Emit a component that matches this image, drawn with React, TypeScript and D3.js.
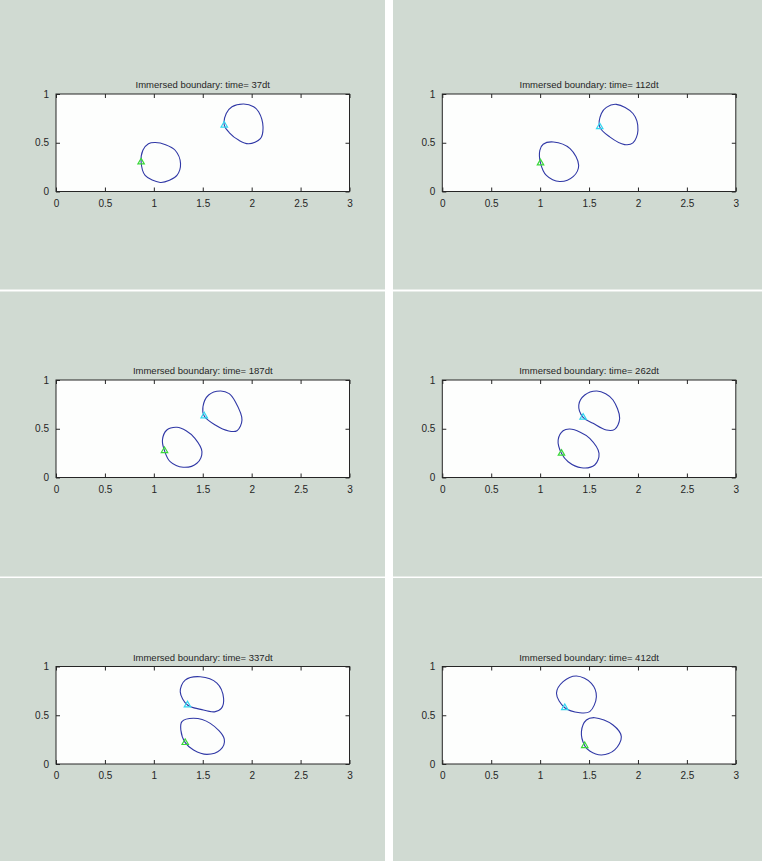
import * as React from 'react';
import * as d3 from 'd3';

type Pt = [number, number];

// frame times (in dt units)
const TIMES = [37, 112, 187, 262, 337, 412];

const X_TICKS = [0, 0.5, 1, 1.5, 2, 2.5, 3];
const Y_TICKS = [0, 0.5, 1];

// lower / left boundary of each frame, first point carries the green marker
const LOWER_CURVES: Pt[][] = [
    [[0.870, 0.302], [0.888, 0.423], [0.945, 0.490], [1.014, 0.502], [1.120, 0.480], [1.218, 0.423], [1.273, 0.286], [1.236, 0.165], [1.160, 0.115], [1.065, 0.093], [0.911, 0.165]],
    [[1.004, 0.292], [0.997, 0.423], [1.031, 0.485], [1.136, 0.508], [1.306, 0.440], [1.394, 0.268], [1.340, 0.155], [1.200, 0.103], [1.064, 0.165]],
    [[1.109, 0.275], [1.088, 0.385], [1.133, 0.487], [1.236, 0.515], [1.330, 0.480], [1.420, 0.402], [1.492, 0.265], [1.440, 0.146], [1.300, 0.105], [1.167, 0.162]],
    [[1.218, 0.248], [1.184, 0.385], [1.235, 0.480], [1.303, 0.497], [1.410, 0.465], [1.507, 0.402], [1.602, 0.248], [1.558, 0.128], [1.422, 0.100], [1.286, 0.162]],
    [[1.321, 0.219], [1.276, 0.349], [1.287, 0.434], [1.406, 0.469], [1.577, 0.417], [1.720, 0.256], [1.679, 0.144], [1.543, 0.099], [1.406, 0.144]],
    [[1.456, 0.188], [1.422, 0.331], [1.473, 0.451], [1.558, 0.475], [1.745, 0.400], [1.830, 0.280], [1.762, 0.144], [1.627, 0.092], [1.507, 0.133]],
];

// upper / right boundary of each frame, first point carries the cyan marker
const UPPER_CURVES: Pt[][] = [
    [[1.720, 0.680], [1.740, 0.800], [1.799, 0.869], [1.918, 0.897], [2.020, 0.870], [2.071, 0.818], [2.116, 0.663], [2.089, 0.543], [1.969, 0.490], [1.870, 0.525], [1.770, 0.605]],
    [[1.609, 0.663], [1.626, 0.800], [1.677, 0.863], [1.779, 0.894], [1.949, 0.800], [2.000, 0.629], [1.949, 0.498], [1.864, 0.481], [1.711, 0.560]],
    [[1.515, 0.631], [1.502, 0.726], [1.560, 0.846], [1.680, 0.887], [1.770, 0.860], [1.833, 0.777], [1.901, 0.590], [1.850, 0.480], [1.765, 0.477], [1.628, 0.538]],
    [[1.439, 0.617], [1.395, 0.744], [1.456, 0.846], [1.576, 0.887], [1.670, 0.860], [1.745, 0.795], [1.813, 0.607], [1.762, 0.494], [1.677, 0.487], [1.541, 0.556]],
    [[1.344, 0.605], [1.270, 0.740], [1.320, 0.860], [1.474, 0.895], [1.645, 0.830], [1.713, 0.674], [1.690, 0.570], [1.620, 0.535], [1.480, 0.560]],
    [[1.252, 0.577], [1.167, 0.725], [1.235, 0.844], [1.371, 0.903], [1.524, 0.828], [1.575, 0.690], [1.507, 0.537], [1.405, 0.526]],
];

const WIDTH = 762;
const HEIGHT = 861;

// panel tiles (gray) and axes boxes
const COL_TILES = [[0, 385], [393, 762]];
const ROW_TILES = [[0, 289.5], [291.5, 576.5], [578, 861]];
const COL_AXES = [56, 442.3];
const ROW_AXES = [94, 380, 666.5];
const AX_W = 293.5;
const AX_H = 97.5;

const BG = '#d0dad2';
const INK = '#262626';
const FONT = '"Liberation Sans", Arial, Helvetica, sans-serif';

export default function App() {
    const ref = React.useRef<SVGSVGElement>(null);

    React.useEffect(() => {
        const svg = d3.select(ref.current);
        svg.selectAll('*').remove();

        svg.append('rect')
            .attr('width', WIDTH)
            .attr('height', HEIGHT)
            .attr('fill', '#ffffff');

        TIMES.forEach((t, i) => {
            const col = i % 2;
            const row = Math.floor(i / 2);

            // gray tile for this frame
            svg.append('rect')
                .attr('x', COL_TILES[col][0])
                .attr('y', ROW_TILES[row][0])
                .attr('width', COL_TILES[col][1] - COL_TILES[col][0])
                .attr('height', ROW_TILES[row][1] - ROW_TILES[row][0])
                .attr('fill', BG);

            const g = svg.append('g')
                .attr('transform', 'translate(' + [COL_AXES[col], ROW_AXES[row]] + ')');

            const x = d3.scaleLinear().domain([0, 3]).range([0, AX_W]);
            const y = d3.scaleLinear().domain([0, 1]).range([AX_H, 0]);

            g.append('rect')
                .attr('width', AX_W)
                .attr('height', AX_H)
                .attr('fill', '#fdfefd');

            // ticks pointing inward on all four sides
            const tickLen = 4;
            const axisStyle = (sel: any) => {
                sel.select('.domain').remove();
                sel.selectAll('.tick line').attr('stroke', INK).attr('stroke-width', 1);
                sel.selectAll('.tick text')
                    .attr('fill', INK)
                    .style('font-family', FONT)
                    .style('font-size', '10px');
            };

            g.append('g')
                .attr('transform', 'translate(0,' + AX_H + ')')
                .call(d3.axisBottom(x).tickValues(X_TICKS).tickFormat((d: any) => String(d))
                    .tickSizeInner(-tickLen).tickSizeOuter(0).tickPadding(8))
                .call(axisStyle);

            g.append('g')
                .call(d3.axisTop(x).tickValues(X_TICKS).tickFormat(() => '')
                    .tickSizeInner(-tickLen).tickSizeOuter(0))
                .call(axisStyle);

            g.append('g')
                .call(d3.axisLeft(y).tickValues(Y_TICKS).tickFormat((d: any) => String(d))
                    .tickSizeInner(-tickLen).tickSizeOuter(0).tickPadding(7))
                .call(axisStyle);

            g.append('g')
                .attr('transform', 'translate(' + AX_W + ',0)')
                .call(d3.axisRight(y).tickValues(Y_TICKS).tickFormat(() => '')
                    .tickSizeInner(-tickLen).tickSizeOuter(0))
                .call(axisStyle);

            g.append('rect')
                .attr('width', AX_W)
                .attr('height', AX_H)
                .attr('fill', 'none')
                .attr('stroke', INK)
                .attr('stroke-width', 1);

            g.append('text')
                .attr('x', AX_W / 2)
                .attr('y', -6)
                .attr('text-anchor', 'middle')
                .attr('fill', INK)
                .style('font-family', FONT)
                .style('font-size', '9.5px')
                .text('Immersed boundary: time= ' + t + 'dt');

            const line = d3.line<Pt>()
                .x(d => x(d[0]))
                .y(d => y(d[1]))
                .curve(d3.curveCatmullRomClosed.alpha(0.5));

            const tri = d3.symbol().type(d3.symbolTriangle).size(18);

            [[LOWER_CURVES[i], '#3ad83a'], [UPPER_CURVES[i], '#33d6f0']].forEach(([pts, color]: any) => {
                g.append('path')
                    .attr('d', line(pts))
                    .attr('fill', 'none')
                    .attr('stroke', '#3038a6')
                    .attr('stroke-width', 1.1);

                g.append('path')
                    .attr('d', tri())
                    .attr('transform', 'translate(' + [x(pts[0][0]), y(pts[0][1])] + ')')
                    .attr('fill', 'none')
                    .attr('stroke', color)
                    .attr('stroke-width', 1.2);
            });
        });
    }, []);

    return (
        <svg
            ref={ref}
            width={WIDTH}
            height={HEIGHT}
            style={{ position: 'absolute', left: 0, top: 0, display: 'block' }}
        />
    );
}
